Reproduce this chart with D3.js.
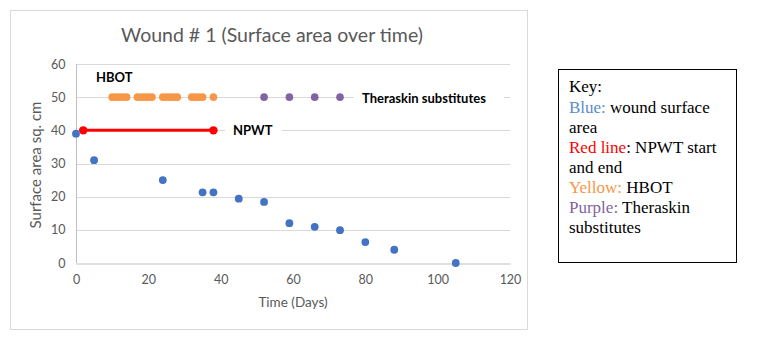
<!DOCTYPE html>
<html><head><meta charset="utf-8">
<script src="https://cdn.jsdelivr.net/npm/d3@7"></script>
<style>body{margin:0;background:#fff}svg{display:block}</style>
</head><body>
<svg id="c" width="758" height="339"></svg>
<script>
const titleText = "Wound # 1 (Surface area over time)";
const xTicks = [0, 20, 40, 60, 80, 100, 120];
const yTicks = [0, 10, 20, 30, 40, 50, 60];
const woundDays = [0, 5, 24, 35, 38, 45, 52, 59, 66, 73, 80, 88, 105];
const woundArea = [39, 31, 25, 21.3, 21.3, 19.4, 18.4, 12, 10.9, 9.9, 6.3, 4, 0];
const npwtDays = [2, 38];
const npwtLevel = [40, 40];
const hbotDays = [10,11,12,13,14,17,18,19,20,21,24,25,26,27,28,32,33,34,35,38];
const hbotLevel = 50;
const theraskinDays = [52, 59, 66, 73];
const theraskinLevel = 50;
const keyLines = [
  [["Blue:", "#5b8bd0"], [" wound surface", "#000"]],
  [["area", "#000"]],
  [["Red line", "#ff0000"], [": NPWT start", "#000"]],
  [["and end", "#000"]],
  [["Yellow:", "#f79646"], [" HBOT", "#000"]],
  [["Purple:", "#8064a2"], [" Theraskin", "#000"]],
  [["substitutes", "#000"]]
];

const svg = d3.select("#c");
const font = "Lato, 'Open Sans', sans-serif";
// chart border
svg.append("rect").attr("x", 10.5).attr("y", 10.5).attr("width", 517).attr("height", 319)
  .attr("fill", "#fff").attr("stroke", "#d9d9d9");

const x = d3.scaleLinear().domain([0, 120]).range([76, 510]);
const y = d3.scaleLinear().domain([0, 60]).range([263, 64]);

// gridlines
svg.append("g").selectAll("line").data(yTicks.filter(d => d > 0)).join("line")
  .attr("x1", x(0)).attr("x2", x(120)).attr("y1", d => Math.round(y(d)) + 0.5).attr("y2", d => Math.round(y(d)) + 0.5)
  .attr("stroke", "#d9d9d9").attr("stroke-width", 1);

// axes
const gx = svg.append("g").attr("transform", `translate(0,${Math.round(y(0)) + 0.5})`)
  .call(d3.axisBottom(x).tickValues(xTicks).tickSize(0).tickPadding(12));
const gy = svg.append("g").attr("transform", `translate(${Math.round(x(0)) + 0.5},0)`)
  .call(d3.axisLeft(y).tickValues(yTicks).tickSize(0).tickPadding(11));
[gx, gy].forEach(g => {
  g.select(".domain").attr("stroke", "#bfbfbf");
  g.selectAll("text").attr("fill", "#595959").attr("font-family", font).attr("font-size", 12.5);
});
gy.select(".domain").attr("d", `M0,${y(60)}V${y(0)}`);

// label boxes (white backgrounds covering gridlines)
function label(txt, lx, ly, w) {
  svg.append("rect").attr("x", lx - 8).attr("y", ly - 11).attr("width", w).attr("height", 16).attr("fill", "#fff");
  svg.append("text").attr("x", lx).attr("y", ly).text(txt)
    .attr("font-family", font).attr("font-size", 13).attr("font-weight", "bold").attr("fill", "#000");
}
label("HBOT", 96, 82, 57);
label("NPWT", 233, 135, 57);
label("Theraskin substitutes", 362, 103, 150);

// NPWT line
svg.append("line").attr("x1", x(npwtDays[0])).attr("x2", x(npwtDays[1]))
  .attr("y1", y(npwtLevel[0])).attr("y2", y(npwtLevel[1]))
  .attr("stroke", "#ff0000").attr("stroke-width", 3);
svg.append("g").selectAll("circle").data(npwtDays).join("circle")
  .attr("cx", d => x(d)).attr("cy", (d, i) => y(npwtLevel[i])).attr("r", 4.2).attr("fill", "#ff0000");

// HBOT
svg.append("g").selectAll("circle").data(hbotDays).join("circle")
  .attr("cx", d => x(d)).attr("cy", y(hbotLevel)).attr("r", 3.8).attr("fill", "#f79646");
// Theraskin
svg.append("g").selectAll("circle").data(theraskinDays).join("circle")
  .attr("cx", d => x(d)).attr("cy", y(theraskinLevel)).attr("r", 3.8).attr("fill", "#8064a2");
// wound
svg.append("g").selectAll("circle").data(woundDays).join("circle")
  .attr("cx", d => x(d)).attr("cy", (d, i) => y(woundArea[i])).attr("r", 3.9).attr("fill", "#4472c4");

// title
svg.append("text").attr("x", 272).attr("y", 42).attr("text-anchor", "middle").text(titleText)
  .attr("font-family", font).attr("font-size", 19.5).attr("fill", "#595959");
// axis titles
svg.append("text").attr("x", 293).attr("y", 307).attr("text-anchor", "middle").text("Time (Days)")
  .attr("font-family", font).attr("font-size", 13.5).attr("fill", "#595959");
svg.append("text").attr("transform", "translate(41,165) rotate(-90)").attr("text-anchor", "middle")
  .text("Surface area sq. cm").attr("font-family", font).attr("font-size", 15).attr("fill", "#595959");

// key box
svg.append("rect").attr("x", 558.5).attr("y", 69.5).attr("width", 178).attr("height", 193)
  .attr("fill", "#fff").attr("stroke", "#000").attr("stroke-width", 1);
const kf = "'Liberation Serif', 'Times New Roman', serif";
svg.append("text").attr("x", 569).attr("y", 92).text("Key:").attr("font-family", kf).attr("font-size", 17).attr("fill", "#000");
keyLines.forEach((parts, i) => {
  const t = svg.append("text").attr("x", 569).attr("y", 112.5 + i * 20.1).attr("font-family", kf).attr("font-size", 17);
  parts.forEach(p => t.append("tspan").text(p[0]).attr("fill", p[1]).style("white-space", "pre"));
});
</script>
</body></html>
